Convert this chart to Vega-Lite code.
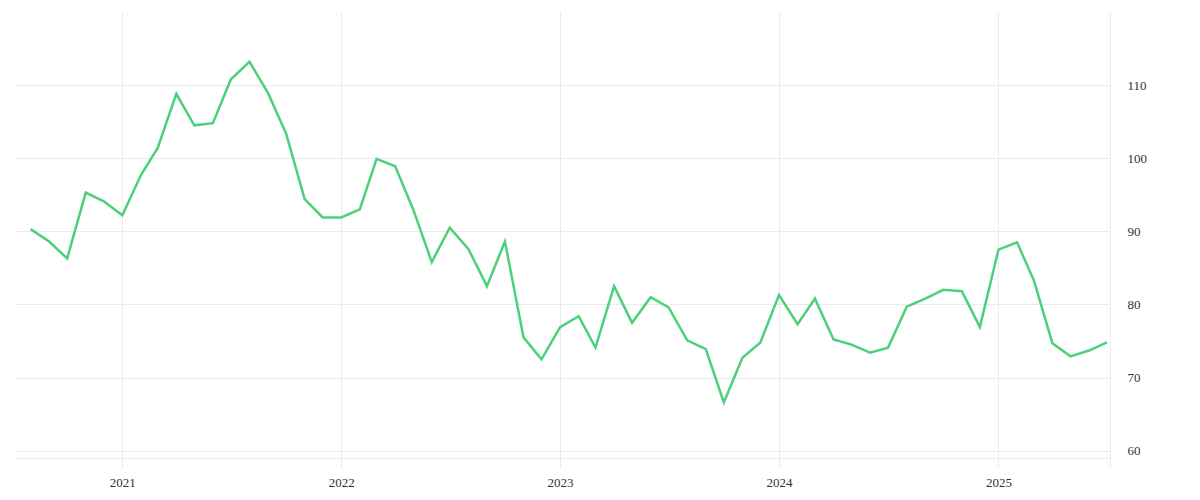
{
  "$schema": "https://vega.github.io/schema/vega-lite/v6.json",
  "width": 1095,
  "height": 446,
  "padding": {"left": 15, "top": 12, "right": 0, "bottom": 0},
  "config": {
    "view": {"stroke": null},
    "axis": {"labelFont": "Liberation Serif", "labelFontSize": 13, "labelColor": "#333", "gridColor": "#ebebeb", "gridWidth": 1, "title": null}
  },
  "data": {
    "values": [
      {"date": "2020-08-01", "value": 90.3},
      {"date": "2020-09-01", "value": 88.6},
      {"date": "2020-10-01", "value": 86.3},
      {"date": "2020-11-01", "value": 95.3},
      {"date": "2020-12-01", "value": 94.1},
      {"date": "2021-01-01", "value": 92.2},
      {"date": "2021-02-01", "value": 97.7},
      {"date": "2021-03-01", "value": 101.4},
      {"date": "2021-04-01", "value": 108.8},
      {"date": "2021-05-01", "value": 104.5},
      {"date": "2021-06-01", "value": 104.8},
      {"date": "2021-07-01", "value": 110.8},
      {"date": "2021-08-01", "value": 113.2},
      {"date": "2021-09-01", "value": 108.9},
      {"date": "2021-10-01", "value": 103.4},
      {"date": "2021-11-01", "value": 94.4},
      {"date": "2021-12-01", "value": 91.9},
      {"date": "2022-01-01", "value": 91.9},
      {"date": "2022-02-01", "value": 93.0},
      {"date": "2022-03-01", "value": 99.9},
      {"date": "2022-04-01", "value": 98.9},
      {"date": "2022-05-01", "value": 93.0},
      {"date": "2022-06-01", "value": 85.8},
      {"date": "2022-07-01", "value": 90.5},
      {"date": "2022-08-01", "value": 87.6},
      {"date": "2022-09-01", "value": 82.5},
      {"date": "2022-10-01", "value": 88.6},
      {"date": "2022-11-01", "value": 75.5},
      {"date": "2022-12-01", "value": 72.5},
      {"date": "2023-01-01", "value": 76.9},
      {"date": "2023-02-01", "value": 78.4},
      {"date": "2023-03-01", "value": 74.1},
      {"date": "2023-04-01", "value": 82.5},
      {"date": "2023-05-01", "value": 77.5},
      {"date": "2023-06-01", "value": 81.0},
      {"date": "2023-07-01", "value": 79.6},
      {"date": "2023-08-01", "value": 75.1},
      {"date": "2023-09-01", "value": 73.9},
      {"date": "2023-10-01", "value": 66.6},
      {"date": "2023-11-01", "value": 72.7},
      {"date": "2023-12-01", "value": 74.8},
      {"date": "2024-01-01", "value": 81.3},
      {"date": "2024-02-01", "value": 77.3},
      {"date": "2024-03-01", "value": 80.8},
      {"date": "2024-04-01", "value": 75.2},
      {"date": "2024-05-01", "value": 74.5},
      {"date": "2024-06-01", "value": 73.4},
      {"date": "2024-07-01", "value": 74.1},
      {"date": "2024-08-01", "value": 79.7},
      {"date": "2024-09-01", "value": 80.8},
      {"date": "2024-10-01", "value": 82.0},
      {"date": "2024-11-01", "value": 81.8},
      {"date": "2024-12-01", "value": 76.9},
      {"date": "2025-01-01", "value": 87.5},
      {"date": "2025-02-01", "value": 88.5},
      {"date": "2025-03-01", "value": 83.3},
      {"date": "2025-04-01", "value": 74.7},
      {"date": "2025-05-01", "value": 72.9},
      {"date": "2025-06-01", "value": 73.7},
      {"date": "2025-07-01", "value": 74.8}
    ]
  },
  "mark": {"type": "line", "color": "#4cd17b", "strokeWidth": 2.5},
  "encoding": {
    "x": {
      "field": "date",
      "type": "temporal",
      "scale": {
        "type": "utc",
        "domain": [
          {"year": 2020, "month": 7, "date": 6, "utc": true},
          {"year": 2025, "month": 7, "date": 6, "utc": true}
        ]
      },
      "axis": {
        "values": [
          {"year": 2021, "month": 1, "date": 1, "utc": true},
          {"year": 2022, "month": 1, "date": 1, "utc": true},
          {"year": 2023, "month": 1, "date": 1, "utc": true},
          {"year": 2024, "month": 1, "date": 1, "utc": true},
          {"year": 2025, "month": 1, "date": 1, "utc": true},
          {"year": 2025, "month": 7, "date": 6, "utc": true}
        ],
        "labelExpr": "utcFormat(datum.value, '%m-%d') == '01-01' ? utcFormat(datum.value, '%Y') : ''",
        "grid": true,
        "domainColor": "#ebebeb",
        "tickColor": "#ebebeb",
        "tickSize": 10,
        "labelPadding": 8
      }
    },
    "y": {
      "field": "value",
      "type": "quantitative",
      "scale": {"domain": [59, 120], "nice": false, "zero": false},
      "axis": {
        "orient": "right",
        "values": [60, 70, 80, 90, 100, 110],
        "grid": true,
        "domain": false,
        "ticks": false,
        "labelPadding": 17
      }
    }
  }
}
